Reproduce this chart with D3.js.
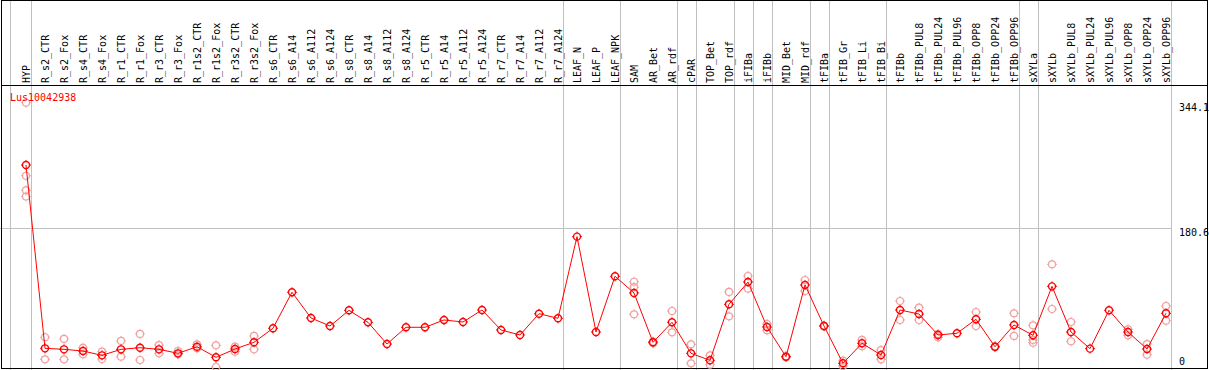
<!DOCTYPE html>
<meta charset="utf-8">
<style>
body { margin: 0; background: #fff; }
text { font-family: "DejaVu Sans Mono", monospace; font-size: 10px; }
</style>
<svg width="1209" height="370"></svg>
<script src="https://d3js.org/d3.v7.min.js"></script>
<script>

var categories = ["HYP","R_s2_CTR","R_s2_Fox","R_s4_CTR","R_s4_Fox","R_r1_CTR","R_r1_Fox","R_r3_CTR","R_r3_Fox",
  "R_r1s2_CTR","R_r1s2_Fox","R_r3s2_CTR","R_r3s2_Fox","R_s6_CTR","R_s6_A14","R_s6_A112","R_s6_A124",
  "R_s8_CTR","R_s8_A14","R_s8_A112","R_s8_A124","R_r5_CTR","R_r5_A14","R_r5_A112","R_r5_A124",
  "R_r7_CTR","R_r7_A14","R_r7_A112","R_r7_A124","LEAF_N","LEAF_P","LEAF_NPK","SAM","AR_Bet","AR_rdf",
  "cPAR","TOP_Bet","TOP_rdf","iFIBa","iFIBb","MID_Bet","MID_rdf","tFIBa","tFIB_Gr","tFIB_Li","tFIB_Bi",
  "tFIBb","tFIBb_PUL8","tFIBb_PUL24","tFIBb_PUL96","tFIBb_OPP8","tFIBb_OPP24","tFIBb_OPP96",
  "sXYLa","sXYLb","sXYLb_PUL8","sXYLb_PUL24","sXYLb_PUL96","sXYLb_OPP8","sXYLb_OPP24","sXYLb_OPP96"];

var meanValues = [263, 24.3, 23, 20.8, 15.2, 23, 25.1, 23, 17.8, 26.4, 12.6, 23.4, 32.2, 50.4, 97.3,
  63.8, 53.4, 73.8, 58.2, 29.9, 51.7, 51.7, 61.2, 58.6, 74.2, 48.2, 41.7, 69.4, 63.4, 169.7, 45.6,
  118.1, 96.4, 32.2, 58.2, 17.8, 8.7, 81.6, 110.7, 52.1, 13.4, 106.8, 53.4, 4.8, 30.9, 15.6,
  74.2, 69, 41.7, 43.9, 62.1, 26.4, 54.7, 41.3, 105, 45.6, 23.9, 73.8, 45.6, 23.4, 69.9];

var replicates = [
  [344.1, 249, 230, 222], [38.7, 10], [36.5, 10], [25, 16.5], [19.9, 10.4], [33.9, 13.4], [43, 9.1],
  [28.6, 17.8], [20.8, 16.5], [29.5, 24.3], [28.2, 0], [26.4, 19.9], [40.4, 23], [],
  [], [], [], [], [], [], [], [], [], [], [], [], [], [], [], [], [], [],
  [111, 104, 68.6], [33, 31], [72.9, 45.2], [29.5, 4.8], [15.2, 3], [97.7, 66], [118.5, 102],
  [56, 48], [14, 12.8], [113.3, 99], [54, 52.8], [8.2, 1.3], [35.2, 27], [22.1, 10],
  [85.9, 61.2], [77.2, 61.2], [38.6, 43], [], [71.6, 53.4], [27, 25.8], [69.9, 40.4],
  [54.3, 35.2, 31.6], [133.7, 75.5], [58.6, 33.5], [], [], [49, 41.3], [29.9, 16], [79.4, 60.3]];

// last column of each group, a grey line follows it
var groupEnds = ["HYP","R_r7_A124","LEAF_NPK","AR_rdf","cPAR","TOP_rdf","iFIBa","iFIBb","MID_rdf",
  "tFIBa","tFIB_Bi","tFIBb_OPP96","sXYLa","sXYLb_OPP96"];

var yTicks = [344.1, 180.6, 0];
var gridValue = 180.6;
var title = "Lus10042938";

var svg = d3.select("svg");
var x = d3.scalePoint().domain(categories).range([26, 1166]);
var y = d3.scaleLinear().domain([0, 344.1]).range([367, 102.7]);

// grey separators
svg.append("line").attr("x1", 10.5).attr("x2", 10.5).attr("y1", 0).attr("y2", 370)
  .attr("stroke", "#c0c0c0");
svg.selectAll(".sep").data(groupEnds).enter().append("line")
  .attr("class", "sep")
  .attr("x1", d => Math.round(x(d) + 4.7) + 0.5)
  .attr("x2", d => Math.round(x(d) + 4.7) + 0.5)
  .attr("y1", 0).attr("y2", 370)
  .attr("stroke", "#c0c0c0");
svg.append("line").attr("x1", 0).attr("x2", 1171)
  .attr("y1", Math.round(y(gridValue)) + 0.5).attr("y2", Math.round(y(gridValue)) + 0.5)
  .attr("stroke", "#c0c0c0");

// frame
svg.append("rect").attr("x", 1.5).attr("y", 0.5).attr("width", 1206).attr("height", 368)
  .attr("fill", "none").attr("stroke", "#000");
svg.append("line").attr("x1", 1).attr("x2", 1208).attr("y1", 85.5).attr("y2", 85.5).attr("stroke", "#000");

// column labels
svg.selectAll(".lab").data(categories).enter().append("text")
  .attr("class", "lab")
  .attr("transform", d => "translate(" + (x(d) + 4) + ",83) rotate(-90)")
  .attr("fill", "#000")
  .text(d => d);

// y labels
svg.selectAll(".ytick").data(yTicks).enter().append("text")
  .attr("class", "ytick")
  .attr("x", 1179)
  .attr("y", d => Math.min(y(d) + 8, 365))
  .attr("fill", "#000")
  .text(d => d);

function marker(g, cx, cy, color, sw) {
  var r = 3.5;
  g.append("circle").attr("cx", cx).attr("cy", cy).attr("r", r)
    .attr("fill", "none").attr("stroke", color).attr("stroke-width", sw);
  var p = "M" + cx + "," + (cy - r - 1.5) + "V" + (cy - r) +
          "M" + cx + "," + (cy + r) + "V" + (cy + r + 1.5) +
          "M" + (cx - r - 1.5) + "," + cy + "H" + (cx - r) +
          "M" + (cx + r) + "," + cy + "H" + (cx + r + 1.5);
  g.append("path").attr("d", p).attr("stroke", color).attr("stroke-width", 1).attr("fill", "none");
}

var gr = svg.append("g");
replicates.forEach(function(reps, i) {
  reps.forEach(function(v) { marker(gr, x(categories[i]), y(v), "#f0a0a0", 1.2); });
});

var line = d3.line()
  .x((d, i) => x(categories[i]))
  .y(d => y(d));
svg.append("path").datum(meanValues)
  .attr("d", line).attr("fill", "none").attr("stroke", "#ff0000").attr("stroke-width", 1);

var gm = svg.append("g");
meanValues.forEach(function(v, i) { marker(gm, x(categories[i]), y(v), "#ff0000", 1.4); });

svg.append("text").attr("x", 10).attr("y", 101).attr("fill", "#ff0000").text(title);

</script>
